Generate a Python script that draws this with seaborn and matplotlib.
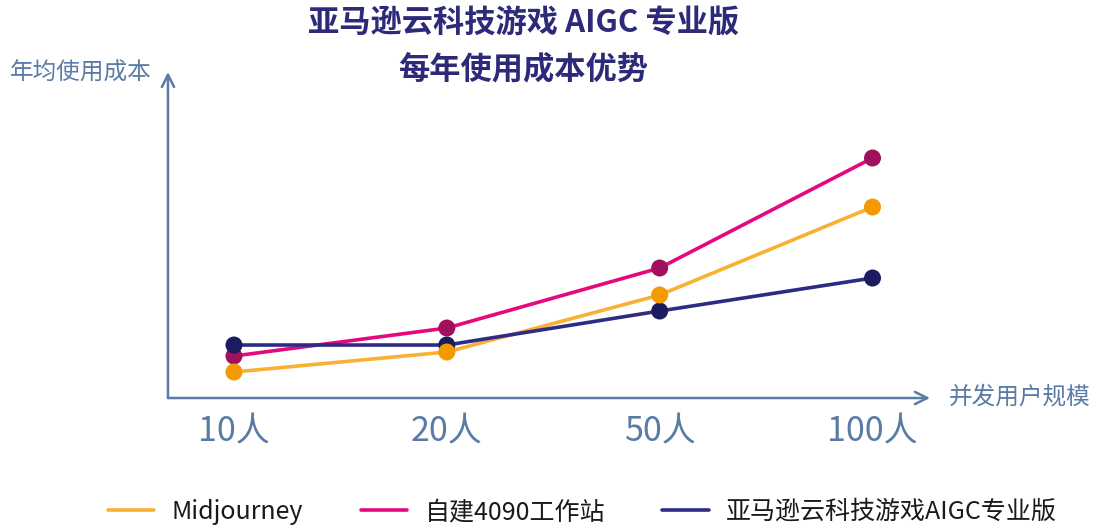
import matplotlib
matplotlib.use("Agg")
import matplotlib.pyplot as plt
import seaborn as sns
import pandas as pd

# data (arbitrary cost units)
users = ["10人", "20人", "50人", "100人"]
series = ["Midjourney", "自建4090工作站", "亚马逊云科技游戏AIGC专业版"]
midjourney = [26, 46, 103, 191]
rtx4090 = [42, 70, 130, 240]
aws_aigc = [53, 53, 87, 120]

line_colors = ["#F8B133", "#E5087E", "#2E2B84"]
dot_colors = ["#F29A00", "#A0105C", "#1B1B5F"]
axis_color = "#5A7BA5"

rows = []
for name, vals in zip(series, [midjourney, rtx4090, aws_aigc]):
    for i, v in enumerate(vals):
        rows.append({"pos": i, "users": users[i], "cost": v, "series": name})
df = pd.DataFrame(rows)

sns.set_theme(style="white")
plt.rcParams["font.family"] = ["Noto Sans CJK SC", "DejaVu Sans"]

fig = plt.figure(figsize=(10.95, 5.29), dpi=100)
ax = fig.add_axes([0.1534, 0.2476, 0.6959, 0.6163])

sns.lineplot(data=df, x="pos", y="cost", hue="series", hue_order=series,
             palette=line_colors, linewidth=2.6, ax=ax, legend=True)

# markers: pink, navy, then orange on top
for idx in [1, 2, 0]:
    sub = df[df["series"] == series[idx]]
    sns.scatterplot(data=sub, x="pos", y="cost", color=dot_colors[idx],
                    s=150, edgecolor="none", ax=ax, legend=False, zorder=5)

ax.set_xlim(-0.31, 3.27)
ax.set_ylim(0, 326)
ax.set_xticks(range(len(users)))
ax.set_xticklabels(users, fontsize=24.5, color=axis_color)
ax.tick_params(axis="x", length=0, pad=12)
ax.set_yticks([])
ax.set_xlabel("")
ax.set_ylabel("")
for s in ax.spines.values():
    s.set_visible(False)

# arrow axes
ax.annotate("", xy=(1, 0), xytext=(0, 0), xycoords="axes fraction",
            arrowprops=dict(arrowstyle="->", color=axis_color, lw=1.8,
                            mutation_scale=22, shrinkA=0, shrinkB=0))
ax.annotate("", xy=(0, 1), xytext=(0, 0), xycoords="axes fraction",
            arrowprops=dict(arrowstyle="->", color=axis_color, lw=1.8,
                            mutation_scale=22, shrinkA=0, shrinkB=0))

fig.text(0.009, 0.862, "年均使用成本", fontsize=17, color=axis_color, va="center")
fig.text(0.866, 0.249, "并发用户规模", fontsize=17, color=axis_color, va="center")

fig.text(0.478, 0.955, "亚马逊云科技游戏 AIGC 专业版", fontsize=22.5, fontweight="bold",
         color="#2E2A7A", ha="center", va="center")
fig.text(0.478, 0.868, "每年使用成本优势", fontsize=22.5, fontweight="bold",
         color="#2E2A7A", ha="center", va="center")

handles, labels = ax.get_legend_handles_labels()
ax.get_legend().remove()
leg = fig.legend(handles, labels, loc="center", bbox_to_anchor=(0.532, 0.032), ncol=3,
                 frameon=False, fontsize=18, handlelength=1.85, columnspacing=2.3,
                 handletextpad=0.7)
for t in leg.get_texts():
    t.set_color("#1A1A1A")

fig.savefig("out.png", dpi=100)
